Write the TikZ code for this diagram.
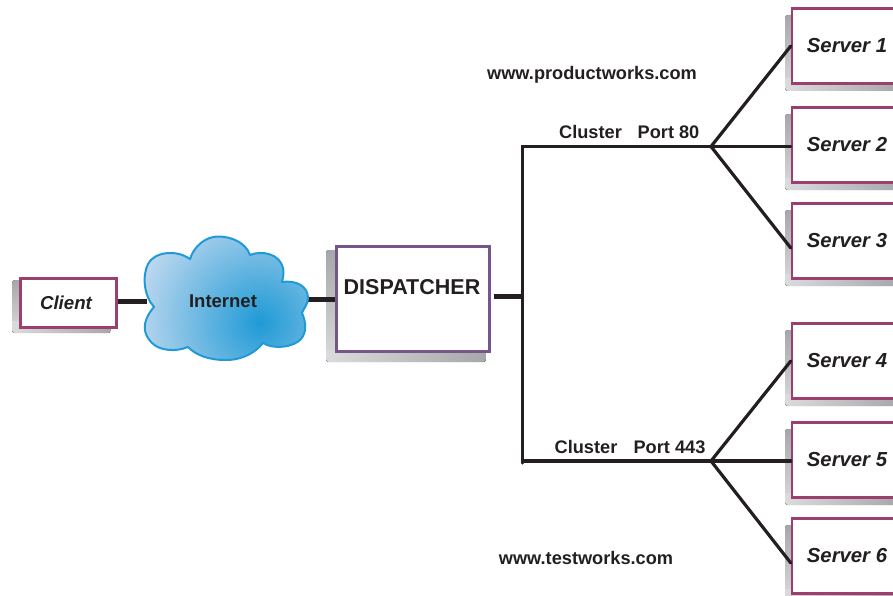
\documentclass[tikz,border=0pt]{standalone}
\usepackage{fontspec}
\setmainfont{Liberation Sans}
\definecolor{ink}{HTML}{231F20}
\definecolor{shadeD}{HTML}{A6A7AA}
\definecolor{shadeL}{HTML}{DADBDC}
\definecolor{plum}{HTML}{9C3F6E}
\definecolor{violet}{HTML}{76568A}
\definecolor{cloudEdge}{HTML}{1F9AD6}
\definecolor{cloudIn}{HTML}{1F9AD6}
\definecolor{cloudOut}{HTML}{C6DBF0}
\newcommand{\softshadow}[4]{%
  \begin{scope}
    \clip[rounded corners=3pt] (#1,#2) rectangle (#3,#4);
    \fill[top color=shadeD,bottom color=shadeL,draw=none] (#1,#2) rectangle (#3,#4);
    \fill[left color=shadeL,right color=shadeD,draw=none] (#1,#4-12) rectangle (#3,#4);
  \end{scope}}
\tikzset{
  box/.style={draw=plum,line width=2.4pt,fill=white,inner sep=0pt,text=ink,anchor=center},
  clientbox/.style={box,minimum width=96pt,minimum height=49pt},
  serverbox/.style={box,minimum width=110pt,minimum height=75pt,font=\fontsize{20.3}{22}\selectfont\bfseries\itshape},
  dispbox/.style={box,draw=violet,minimum width=153pt,minimum height=105pt},
  thick link/.style={draw=ink,line width=5pt},
  link/.style={draw=ink,line width=3.2pt,line cap=round},
  caption/.style={text=ink,inner sep=0pt,font=\fontsize{18.2}{20}\selectfont\bfseries},
  cloudline/.style={color=cloudEdge,line width=2pt,line join=round},
}
\begin{document}
\begin{tikzpicture}[x=1pt,y=-1pt]
\useasboundingbox (0,0) rectangle (893,596);
\clip (0,0) rectangle (893,596);
\softshadow{12}{280}{111}{333}
\softshadow{326}{250}{486}{362}
\softshadow{785}{15}{900}{91}
\softshadow{785}{114}{900}{190}
\softshadow{785}{210}{900}{286}
\softshadow{785}{330}{900}{406}
\softshadow{785}{429}{900}{505}
\softshadow{785}{525}{900}{601}
% junctions
\coordinate (cloudW) at (147,301.5);
\coordinate (cloudE) at (308,299);
\coordinate (busIn) at (522,296);
\coordinate (busTop) at (522.5,146.5);
\coordinate (busBot) at (522.5,463);
\coordinate (hubA) at (711,146.5);
\coordinate (hubB) at (711,461);
% boxes
\node[clientbox] (client) at (68.5,303) {};
\node[dispbox] (disp) at (413,299) {};
\node[serverbox] (s1) at (847,46) {Server 1};
\node[serverbox] (s2) at (847,145) {Server 2};
\node[serverbox] (s3) at (847,241) {Server 3};
\node[serverbox] (s4) at (847,361) {Server 4};
\node[serverbox] (s5) at (847,460) {Server 5};
\node[serverbox] (s6) at (847,556) {Server 6};
% connectors
\draw[thick link] (client.east |- cloudW) -- (cloudW);
\draw[thick link] (cloudE) -- (disp.west |- cloudE);
\draw[thick link] ([xshift=3pt]disp.east |- busIn) -- (busIn);
\draw[link] (hubA) -- (busTop) -- (busBot);
\draw[link] (busBot |- hubB) -- (hubB);
\draw[link] (hubA) -- (s1.west);
\draw[link] (hubA) -- (s2.west |- hubA);
\draw[link] (hubA) -- ([yshift=-7pt]s3.west);
\draw[link] (hubB) -- (s4.west);
\draw[link] (hubB) -- (s5.west |- hubB);
\draw[link] (hubB) -- ([yshift=-7pt]s6.west);
% cloud
\def\cloudpath{(190,259)
  .. controls (194,246) and (206,236.5) .. (218,236.5)
  .. controls (232,236.5) and (246,243) .. (250,255)
  .. controls (262,250) and (280,254) .. (283,268)
  .. controls (284,273) and (283,278) .. (282,282)
  .. controls (296,280) and (308,286) .. (308,298)
  .. controls (308,305) and (303,309) .. (302,313)
  .. controls (306,322) and (307,332) .. (301,339)
  .. controls (294,347) and (274,350) .. (263,343)
  .. controls (256,352) and (243,360) .. (226,360)
  .. controls (208,360) and (196,355) .. (188,347)
  .. controls (176,352) and (160,351) .. (152,343)
  .. controls (143,334) and (141,322) .. (154,307)
  .. controls (144,296) and (142,276) .. (148,264)
  .. controls (154,252) and (176,249) .. (190,259) -- cycle}
\begin{scope}
  \expandafter\clip\cloudpath;
  \shade[inner color=cloudIn,outer color=cloudOut] (260,322) circle (132);
\end{scope}
\begin{scope}[cloudline]
  \expandafter\draw\cloudpath;
\end{scope}
\node[text=ink,inner sep=0pt,font=\fontsize{18.5}{20}\selectfont\bfseries] (internet) at (223,301) {Internet};
\node[text=ink,inner sep=0pt,font=\fontsize{21.5}{23}\selectfont\bfseries] (disptext) at (412,287) {DISPATCHER};
\node[text=ink,inner sep=0pt,font=\fontsize{18.7}{20}\selectfont\bfseries\itshape] (clienttext) at (66,303) {Client};
% labels
\node[caption] (url1) at (592,74.5) {www.productworks.com};
\node[caption] (url2) at (586,557.5) {www.testworks.com};
\node[caption] (cl1) at (590.5,132) {Cluster};
\node[caption] (p80) at (668.5,132) {Port 80};
\node[caption] (cl2) at (586,447) {Cluster};
\node[caption] (p443) at (669.5,447) {Port 443};
\end{tikzpicture}
\end{document}
